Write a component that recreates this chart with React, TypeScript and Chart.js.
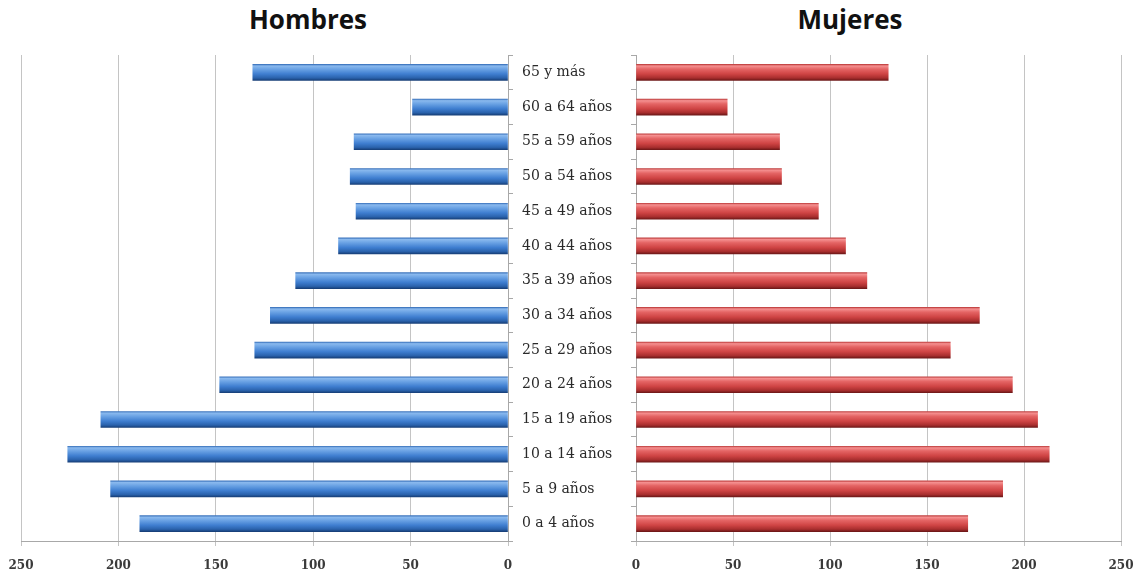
import { useEffect, useRef } from 'react';
import { Chart, registerables } from 'chart.js';
Chart.register(...registerables);

const categories = [
  '65 y más', '60 a 64 años', '55 a 59 años', '50 a 54 años', '45 a 49 años',
  '40 a 44 años', '35 a 39 años', '30 a 34 años', '25 a 29 años', '20 a 24 años',
  '15 a 19 años', '10 a 14 años', '5 a 9 años', '0 a 4 años',
];
const hombres = [131, 49, 79, 81, 78, 87, 109, 122, 130, 148, 209, 226, 204, 189];
const mujeres = [130, 47, 74, 75, 94, 108, 119, 177, 162, 194, 207, 213, 189, 171];
const xTicks = [0, 50, 100, 150, 200, 250];
const titleHombres = 'Hombres';
const titleMujeres = 'Mujeres';

const BAR = 16;
const blueStops: [number, string][] = [
  [0, '#3c74bd'], [0.1, '#8ab9ee'], [0.3, '#6aa2e4'], [0.6, '#3f7ed0'], [0.85, '#2a62ac'], [1, '#173f78'],
];
const redStops: [number, string][] = [
  [0, '#c04040'], [0.1, '#f59090'], [0.3, '#e46464'], [0.6, '#cf4444'], [0.85, '#a82e2e'], [1, '#6e1818'],
];

function gradient(ctx: any, stops: [number, string][]) {
  const chart = ctx.chart;
  const y = chart.scales && chart.scales.y;
  if (!y || ctx.dataIndex === undefined) return stops[3][1];
  const yc = y.getPixelForValue(ctx.dataIndex);
  if (!Number.isFinite(yc)) return stops[3][1];
  const g = chart.ctx.createLinearGradient(0, yc - BAR / 2, 0, yc + BAR / 2);
  stops.forEach(([o, c]) => g.addColorStop(o, c));
  return g;
}

const tickFont = { family: 'DejaVu Serif', weight: 'bold' as const, size: 12 };
const catFont = { family: 'DejaVu Serif', size: 14 };
const gridColor = '#c4c4c4';

function xScale(reverse: boolean) {
  return {
    type: 'linear' as const,
    reverse,
    min: 0,
    max: 250,
    afterBuildTicks: (s: any) => { s.ticks = xTicks.map((v) => ({ value: v })); },
    afterFit: (s: any) => { s.height = 30; s.paddingLeft = 0; s.paddingRight = 0; },
    grid: { color: gridColor, tickLength: 5, lineWidth: 1 },
    border: { display: true, color: '#a8a8a8' },
    ticks: { font: tickFont, color: '#3a3a3a', padding: 13 },
  };
}

export default function App() {
  const leftRef = useRef<HTMLCanvasElement>(null);
  const rightRef = useRef<HTMLCanvasElement>(null);

  useEffect(() => {
    const left = new Chart(leftRef.current!, {
      type: 'bar',
      data: {
        labels: categories,
        datasets: [{
          label: titleHombres,
          data: hombres,
          barThickness: BAR,
          backgroundColor: (c: any) => gradient(c, blueStops),
          borderWidth: 0,
        }],
      },
      options: {
        indexAxis: 'y',
        responsive: false,
        animation: false,
        layout: { padding: { left: 21, top: 55, right: 0, bottom: 4 } },
        plugins: { legend: { display: false }, tooltip: { enabled: false }, title: { display: false } },
        scales: {
          x: xScale(true),
          y: {
            position: 'right',
            afterFit: (s: any) => { s.width = 120; },
            grid: { drawOnChartArea: false, drawTicks: true, tickLength: 5, color: '#a8a8a8' },
            border: { display: true, color: '#a8a8a8' },
            ticks: { font: catFont, color: '#2a2a2a', padding: 9, crossAlign: 'near' },
          },
        },
      },
    });
    const right = new Chart(rightRef.current!, {
      type: 'bar',
      data: {
        labels: categories,
        datasets: [{
          label: titleMujeres,
          data: mujeres,
          barThickness: BAR,
          backgroundColor: (c: any) => gradient(c, redStops),
          borderWidth: 0,
        }],
      },
      options: {
        indexAxis: 'y',
        responsive: false,
        animation: false,
        layout: { padding: { left: 0, top: 55, right: 17, bottom: 4 } },
        plugins: { legend: { display: false }, tooltip: { enabled: false }, title: { display: false } },
        scales: {
          x: xScale(false),
          y: {
            position: 'left',
            afterFit: (s: any) => { s.width = 12; },
            grid: { drawOnChartArea: false, drawTicks: true, tickLength: 5, color: '#a8a8a8' },
            border: { display: true, color: '#a8a8a8' },
            ticks: { display: false },
          },
        },
      },
    });
    left.update();
    right.update();
    return () => { left.destroy(); right.destroy(); };
  }, []);

  const titleStyle = (cx: number): React.CSSProperties => ({
    position: 'absolute',
    left: cx - 150,
    width: 300,
    top: 4,
    lineHeight: '30px',
    textAlign: 'center',
    fontFamily: '"Open Sans", sans-serif',
    fontWeight: 700,
    fontSize: 26,
    color: '#111',
  });

  return (
    <div style={{ position: 'fixed', left: 0, top: 0, width: 1138, height: 575, background: '#fff', overflow: 'hidden' }}>
      <div style={titleStyle(308)}>{titleHombres}</div>
      <div style={titleStyle(850)}>{titleMujeres}</div>
      <canvas ref={leftRef} width={628} height={575} style={{ position: 'absolute', left: 0, top: 0 }} />
      <canvas ref={rightRef} width={514} height={575} style={{ position: 'absolute', left: 624, top: 0 }} />
    </div>
  );
}
